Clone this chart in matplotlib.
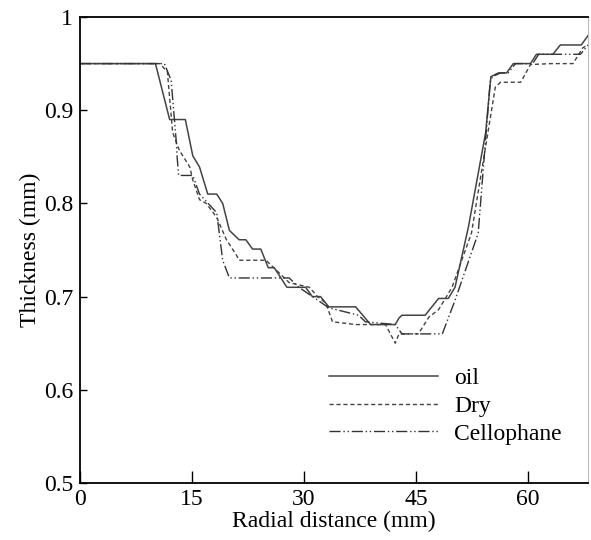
import matplotlib
matplotlib.use('Agg')
import matplotlib.pyplot as plt

# radial distance (mm) / thickness (mm)
oil_x = [0, 10.1, 12.0, 14.1, 15.1, 16.0, 17.1, 18.3, 19.1, 20.0, 21.3, 22.2, 23.1, 24.2,
         25.2, 26.0, 27.7, 30.2, 31.1, 32.2, 33.3, 36.9, 38.9, 42.2, 42.7, 43.1, 46.2,
         48.0, 49.3, 50.2, 52.0, 54.3, 55.0, 56.0, 57.1, 58.0, 60.3, 61.1, 63.3, 64.3,
         67.1, 68.0]
oil_y = [0.95, 0.95, 0.89, 0.89, 0.851, 0.839, 0.81, 0.81, 0.80, 0.771, 0.761, 0.761, 0.751,
         0.751, 0.731, 0.731, 0.71, 0.71, 0.70, 0.70, 0.689, 0.689, 0.67, 0.67, 0.677, 0.68,
         0.68, 0.698, 0.698, 0.71, 0.775, 0.876, 0.936, 0.94, 0.94, 0.95, 0.95, 0.96, 0.96,
         0.97, 0.97, 0.98]

dry_x = [0, 10.7, 11.7, 12.4, 13.3, 14.7, 15.1, 16.0, 16.9, 18.3, 19.6, 20.9, 21.3, 24.9,
         26.2, 28.0, 30.7, 31.8, 32.9, 33.8, 36.9, 40.9, 42.2, 42.7, 45.3, 46.7, 48.0, 49.8,
         52.4, 55.6, 56.3, 59.0, 60.3, 63.1, 66.0, 67.3, 68.0]
dry_y = [0.95, 0.95, 0.941, 0.876, 0.857, 0.839, 0.825, 0.804, 0.80, 0.785, 0.761, 0.745,
         0.739, 0.739, 0.729, 0.715, 0.71, 0.70, 0.693, 0.673, 0.67, 0.67, 0.65, 0.66, 0.66,
         0.678, 0.686, 0.71, 0.768, 0.925, 0.93, 0.93, 0.949, 0.95, 0.95, 0.967, 0.97]

cel_x = [0, 11.3, 12.2, 12.9, 13.0, 13.2, 15.1, 16.0, 18.3, 19.1, 20.0, 28.0, 29.3, 33.3,
         37.3, 38.2, 42.2, 43.1, 48.5, 50.2, 53.3, 54.9, 55.2, 56.3, 57.3, 58.3, 60.6,
         61.4, 67.0, 68.0]
cel_y = [0.95, 0.95, 0.932, 0.865, 0.85, 0.83, 0.83, 0.81, 0.79, 0.739, 0.72, 0.72, 0.71,
         0.688, 0.68, 0.673, 0.67, 0.66, 0.66, 0.696, 0.768, 0.93, 0.936, 0.94, 0.94, 0.95,
         0.95, 0.96, 0.96, 0.97]

xticks = [0, 15, 30, 45, 60]
yticks = [0.5, 0.6, 0.7, 0.8, 0.9, 1.0]
ytick_labels = ['0.5', '0.6', '0.7', '0.8', '0.9', '1']

plt.rcParams['font.family'] = ['Liberation Serif', 'DejaVu Serif']
plt.rcParams['font.size'] = 17

fig = plt.figure(figsize=(5.91, 5.4), dpi=100)
ax = fig.add_axes([80 / 591, 57 / 540, 508 / 591, 466 / 540])

ax.plot(oil_x, oil_y, '-', color='#444444', lw=1.1, label='oil')
ax.plot(dry_x, dry_y, '--', color='#444444', lw=1.0, dashes=(3, 2), label='Dry')
ax.plot(cel_x, cel_y, '-.', color='#333333', lw=1.0, dashes=(8, 2, 1, 2, 1, 2), label='Cellophane')

ax.set_xlim(0, 68)
ax.set_ylim(0.5, 1.0)
ax.set_xticks(xticks)
ax.set_yticks(yticks)
ax.set_yticklabels(ytick_labels)
ax.tick_params(axis='x', direction='in', length=9, width=1, pad=4)
ax.tick_params(axis='y', direction='in', length=5, width=1, pad=5)
ax.spines['right'].set_color('#bbbbbb')
ax.spines['right'].set_linewidth(0.8)
for s in ['left', 'bottom', 'top']:
    ax.spines[s].set_linewidth(1.3)

ax.set_xlabel('Radial distance (mm)', labelpad=1)
ax.set_ylabel('Thickness (mm)', labelpad=2)

ax.legend(loc='center left', bbox_to_anchor=(0.490, 0.165), frameon=False,
          handlelength=4.6, handletextpad=0.7, labelspacing=0.26, fontsize=17,
          borderpad=0, borderaxespad=0)

fig.savefig('out.png', dpi=100)
